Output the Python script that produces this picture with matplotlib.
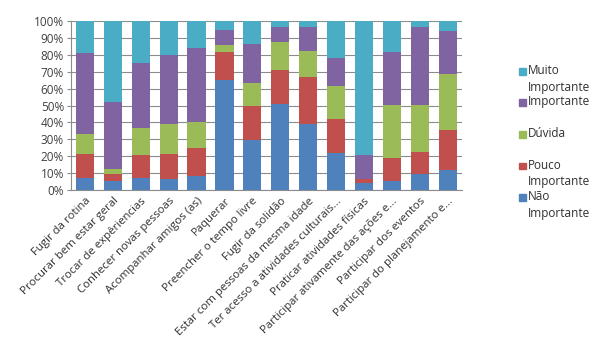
import numpy as np
import matplotlib.pyplot as plt
from matplotlib.patches import Rectangle

# categorias (eixo x)
categorias = [
    "Fugir da rotina", "Procurar bem estar geral", "Trocar de expêriencias",
    "Conhecer novas pessoas", "Acompanhar amigos (as)", "Paquerar",
    "Preencher o tempo livre", "Fugir da solidão",
    "Estar com pessoas da mesma idade", "Ter acesso a atividades culturais...",
    "Praticar atividades físicas", "Participar ativamente das ações e...",
    "Participar dos eventos", "Participar do planejamento e...",
]

# percentuais por resposta
nao_importante = [7.3, 5.5, 6.9, 6.3, 8.3, 64.9, 29.6, 50.7, 39.1, 21.7, 4.3, 5.5, 9.7, 12.0]
pouco_importante = [13.8, 4.2, 13.8, 15.2, 16.7, 16.6, 19.9, 20.3, 27.8, 20.1, 2.4, 13.6, 12.6, 23.5]
duvida = [11.8, 2.9, 16.0, 17.9, 15.0, 4.3, 13.6, 16.8, 15.5, 19.7, 0.0, 31.0, 27.8, 33.1]
importante = [48.4, 39.3, 38.4, 40.5, 44.2, 8.7, 23.3, 8.8, 14.2, 16.8, 13.8, 31.6, 46.5, 25.5]
muito_importante = [18.7, 48.1, 24.9, 20.1, 15.8, 5.5, 13.6, 3.4, 3.4, 21.7, 79.5, 18.3, 3.4, 5.9]

series = [
    ("Não\nImportante", nao_importante, "#4F81BD"),
    ("Pouco\nImportante", pouco_importante, "#C0504D"),
    ("Dúvida", duvida, "#9BBB59"),
    ("Importante", importante, "#8064A2"),
    ("Muito\nImportante", muito_importante, "#4BACC6"),
]

plt.rcParams["font.family"] = ["Open Sans", "DejaVu Sans"]

fig = plt.figure(figsize=(6.06, 3.52), dpi=100)
ax = fig.add_axes([0.117, 0.46, 0.645, 0.48])

x = np.arange(len(categorias))
base = np.zeros(len(categorias))
for nome, vals, cor in series:
    v = np.array(vals, dtype=float)
    ax.bar(x, v, 0.65, bottom=base, color=cor, zorder=3)
    base += v

ax.set_xlim(-0.5, len(categorias) - 0.5)
ax.set_ylim(0, 100)
ax.set_yticks(np.arange(0, 101, 10))
ax.set_yticklabels([f"{t}%" for t in range(0, 101, 10)], fontsize=8.5, color="#404040")
ax.yaxis.grid(True, color="#8c8c8c", linewidth=0.8, zorder=0)
ax.set_xticks(x)
ax.set_xticklabels(categorias, rotation=45, ha="right", rotation_mode="anchor",
                   fontsize=8.2, color="#303030")
ax.tick_params(axis="x", length=0, pad=4)
ax.tick_params(axis="y", length=3, color="#8c8c8c", pad=2)
for s in ["top", "right"]:
    ax.spines[s].set_visible(False)
ax.spines["left"].set_color("#8c8c8c")
ax.spines["bottom"].set_color("#8c8c8c")

# legenda (estilo Excel, alinhada manualmente)
leg_y = [71, 102, 134, 166, 197]
leg_items = [series[4], series[3], series[2], series[1], series[0]]
W, H = 606.0, 352.0
for (nome, _, cor), yy in zip(leg_items, leg_y):
    fig.patches.append(Rectangle((519 / W, 1 - (yy + 3.5) / H), 6.5 / W, 6.5 / H,
                                 transform=fig.transFigure, color=cor))
    fig.text(528 / W, 1 - (yy - 7) / H, nome, fontsize=8.5, color="#303030",
             va="top", ha="left", linespacing=1.35)

fig.savefig("out.png", dpi=100)
